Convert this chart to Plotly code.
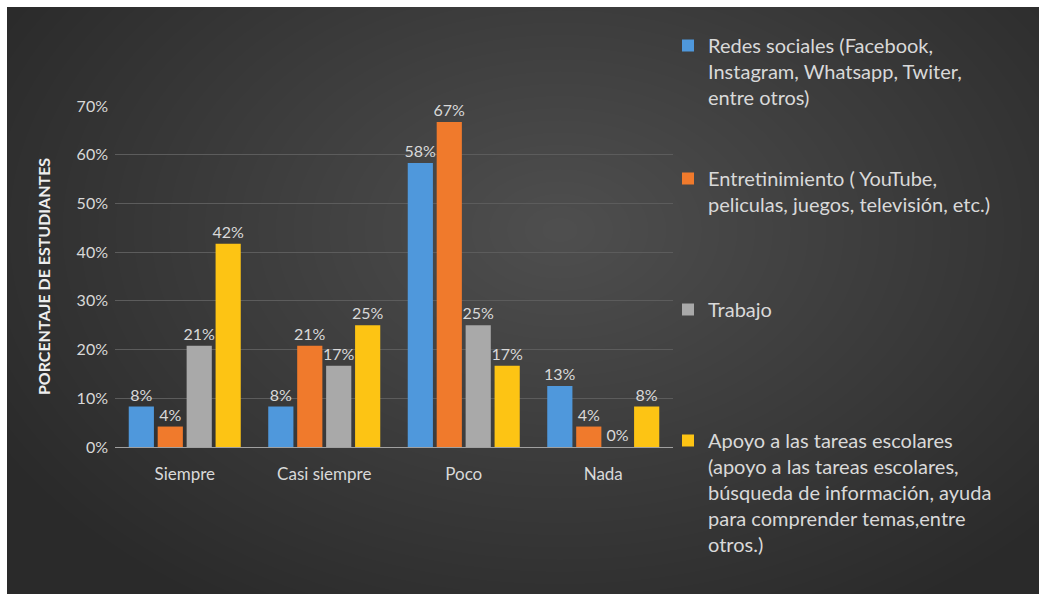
import plotly.graph_objects as go

categories = ["Siempre", "Casi siempre", "Poco", "Nada"]
series_names = [
    "Redes sociales (Facebook,<br>Instagram, Whatsapp, Twiter,<br>entre otros)",
    "Entretinimiento ( YouTube,<br>peliculas, juegos, televisión, etc.)",
    "Trabajo",
    "Apoyo a las tareas escolares<br>(apoyo a las tareas escolares,<br>búsqueda de información, ayuda<br>para comprender temas,entre<br>otros.)",
]
redes = [8.3, 8.3, 58.3, 12.5]
entretenimiento = [4.2, 20.8, 66.7, 4.2]
trabajo = [20.8, 16.7, 25.0, 0.0]
apoyo = [41.7, 25.0, 16.7, 8.3]
series_values = [redes, entretenimiento, trabajo, apoyo]
colors = ["#4f98dc", "#f07a2c", "#a9a9a9", "#fdc414"]
y_tick_vals = [0, 10, 20, 30, 40, 50, 60, 70]
y_tick_text = ["0%", "10%", "20%", "30%", "40%", "50%", "60%", "70%"]

W, H = 1039, 594
L, R, T, B = 115, 1039 - 673, 106, 594 - 447
PW, PH = W - L - R, H - T - B


def px(x):
    return (x - L) / PW


def py(y):
    return (H - B - y) / PH


FONT = "Lato, 'Open Sans', sans-serif"
TXT = "#d9d9d9"

fig = go.Figure()
for i, (name, vals, col) in enumerate(zip(series_names, series_values, colors)):
    lg = "legend" if i == 0 else f"legend{i+1}"
    fig.add_trace(go.Bar(
        x=categories, y=vals, name=name, marker=dict(color=col, line=dict(width=0)),
        texttemplate="%{y:.0f}%", textposition="outside", cliponaxis=False,
        constraintext="none",
        textfont=dict(color=TXT, size=16, family=FONT),
        legend=lg,
    ))

shapes = [dict(type="rect", xref="paper", yref="paper", x0=px(7), x1=px(W + 5),
               y0=py(H + 5), y1=py(7), fillcolor="#2a2a2a", line=dict(width=0), layer="below")]
cx, cy = 560, 230
n = 36
for k in range(n):
    f = 1 - k / n
    rx, ry = 640 * f, 440 * f
    shapes.append(dict(type="circle", xref="paper", yref="paper",
                       x0=px(cx - rx), x1=px(cx + rx), y0=py(cy + ry), y1=py(cy - ry),
                       fillcolor="rgba(255,255,255,0.0068)", line=dict(width=0), layer="below"))

legend_tops = [26, 159, 290, 421]
layout_legends = {}
for i, top in enumerate(legend_tops):
    key = "legend" if i == 0 else f"legend{i+1}"
    layout_legends[key] = dict(
        x=px(668), y=py(top), xanchor="left", yanchor="top", valign="top",
        bgcolor="rgba(0,0,0,0)", font=dict(color=TXT, size=20, family=FONT),
        itemclick=False, itemdoubleclick=False,
    )

fig.update_layout(
    width=W, height=H,
    margin=dict(l=L, r=R, t=T, b=B, pad=0),
    paper_bgcolor="white", plot_bgcolor="rgba(0,0,0,0)",
    barmode="group", bargap=0.17, bargroupgap=0.13,
    showlegend=True,
    shapes=shapes,
    font=dict(family=FONT, color=TXT, size=16),
    xaxis=dict(showgrid=False, showline=True, linecolor="#a0a0a0", linewidth=1,
               ticks="", tickfont=dict(size=17, color=TXT), ticklabelstandoff=12,
               fixedrange=True),
    yaxis=dict(range=[0, 70], tickvals=y_tick_vals, ticktext=y_tick_text, showgrid=True,
               gridcolor="#5c5c5c", gridwidth=1, zeroline=False, showline=False,
               tickfont=dict(size=16, color=TXT), ticklabelstandoff=6,
               title=dict(text="<b>PORCENTAJE DE ESTUDIANTES</b>", standoff=22,
                          font=dict(size=16, color="#eeeeee", family=FONT)),
               fixedrange=True),
    **layout_legends,
)

fig.write_html("out.html", config={"displayModeBar": False},
               post_script="document.body.style.margin='0';document.body.style.overflow='hidden';")
